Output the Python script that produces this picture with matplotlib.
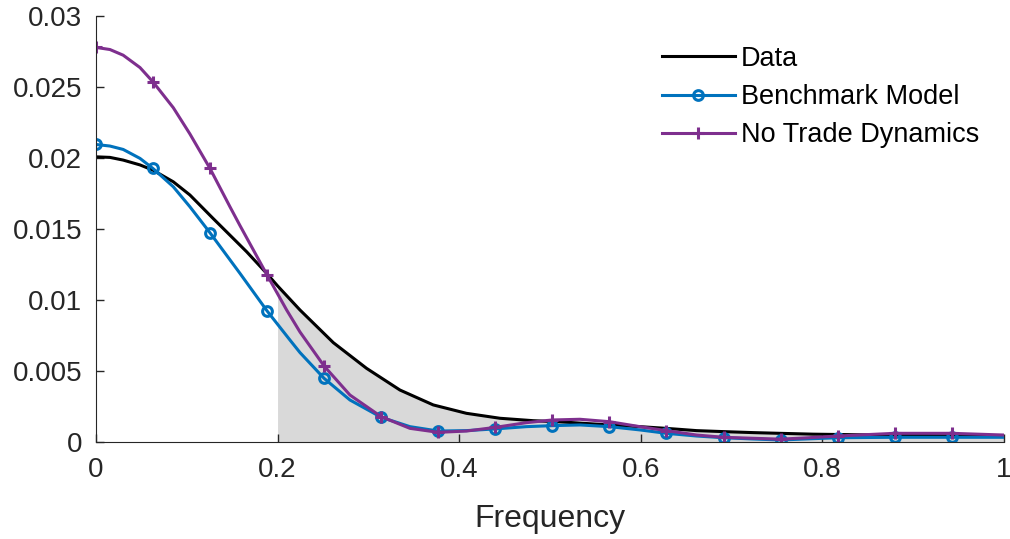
import matplotlib.pyplot as plt
import numpy as np

plt.rcParams['font.family'] = ['Liberation Sans', 'DejaVu Sans']

# Data curve
freq_data = [0.0, 0.0154, 0.030, 0.0485, 0.0628, 0.0852, 0.1035, 0.129, 0.166, 0.188,
             0.2, 0.2247, 0.2614, 0.298, 0.3348, 0.3715, 0.408, 0.445, 0.4816,
             0.511, 0.533, 0.5653, 0.599, 0.628, 0.6615, 0.691, 0.724, 0.753, 0.79,
             0.85, 0.92, 1.0]
spec_data = [0.02009, 0.02005, 0.01986, 0.01952, 0.01915, 0.01833, 0.0174, 0.01575,
             0.0134, 0.01188, 0.0110, 0.0093, 0.0070, 0.00519, 0.00366,
             0.00261, 0.00202, 0.00167, 0.0015, 0.00142, 0.00133, 0.0012, 0.00108,
             0.00096, 0.0008, 0.00073, 0.00066, 0.00061, 0.00055, 0.0005, 0.00045,
             0.0004]

# Benchmark Model
freq_bench = [0.0, 0.0154, 0.030, 0.0485, 0.0628, 0.0852, 0.1035, 0.1256, 0.1586,
              0.1885, 0.2137, 0.2247, 0.2513, 0.2797, 0.3142, 0.3458, 0.3770, 0.408,
              0.4398, 0.474, 0.5027, 0.533, 0.5655, 0.599, 0.6283, 0.6615, 0.6912,
              0.724, 0.7540, 0.785, 0.8168, 0.8796, 0.9425, 1.0]
spec_bench = [0.02096, 0.02085, 0.02061, 0.01998, 0.01927, 0.01798, 0.01657, 0.01474,
              0.01188, 0.00923, 0.00718, 0.0063, 0.00448, 0.00296, 0.00174, 0.00108,
              0.00077, 0.0008, 0.00092, 0.00108, 0.00115, 0.0012, 0.00108, 0.00085,
              0.00061, 0.00042, 0.0003, 0.00021, 0.00014, 0.00022, 0.0003, 0.00033,
              0.00033, 0.00033]
bench_marks = [0, 4, 7, 9, 12, 14, 16, 18, 20, 22, 24, 26, 28, 30, 31, 32]

# No Trade Dynamics
freq_notrade = [0.0, 0.0154, 0.030, 0.0485, 0.0628, 0.0852, 0.1035, 0.1256, 0.1476,
                0.1586, 0.1885, 0.21, 0.2247, 0.2513, 0.2797, 0.3142, 0.3458, 0.3770,
                0.408, 0.4398, 0.474, 0.5027, 0.533, 0.5655, 0.599, 0.6283, 0.6615,
                0.6912, 0.724, 0.7540, 0.785, 0.8168, 0.8796, 0.9425, 1.0]
spec_notrade = [0.0278, 0.02765, 0.02725, 0.02638, 0.02537, 0.02355, 0.0217, 0.01927,
                0.01657, 0.01525, 0.01176, 0.0093, 0.00775, 0.00535, 0.00331, 0.00178,
                0.00096, 0.00068, 0.00077, 0.00103, 0.00136, 0.00155, 0.0016, 0.00143,
                0.00108, 0.0008, 0.00049, 0.00033, 0.00026, 0.0002, 0.0003, 0.00042,
                0.00061, 0.00061, 0.00049]
notrade_marks = [0, 4, 7, 10, 13, 15, 17, 19, 21, 23, 25, 27, 29, 31, 32, 33]

fig = plt.figure(figsize=(10.1, 5.39), dpi=100)
ax = fig.add_axes([0.095, 0.18, 0.899, 0.79])

fd = np.array(freq_data)
sd = np.array(spec_data)
sel = fd >= 0.2
ax.fill_between(fd[sel], 0, sd[sel], color='#d9d9d9', lw=0)

ax.plot(freq_data, spec_data, color='black', lw=2.2, label='Data')
ax.plot(freq_bench, spec_bench, color='#0072BD', lw=2.2, marker='o', ms=7, mfc='none',
        mew=2.2, markevery=bench_marks, label='Benchmark Model')
ax.plot(freq_notrade, spec_notrade, color='#7E2F8E', lw=2.2, marker='+', ms=8, mew=2.2,
        markevery=notrade_marks, label='No Trade Dynamics')

ax.set_xlim(0, 1)
ax.set_ylim(0, 0.03)
ax.set_xticks([0, 0.2, 0.4, 0.6, 0.8, 1])
ax.set_xticklabels(['0', '0.2', '0.4', '0.6', '0.8', '1'])
ax.set_yticks([0, 0.005, 0.01, 0.015, 0.02, 0.025, 0.03])
ax.set_yticklabels(['0', '0.005', '0.01', '0.015', '0.02', '0.025', '0.03'])
ax.tick_params(direction='in', length=6, labelsize=20, colors='#262626', width=1)
ax.tick_params(axis='x', pad=11)
ax.tick_params(axis='y', pad=10)
ax.spines['top'].set_visible(False)
ax.spines['right'].set_visible(False)
for s in ['left', 'bottom']:
    ax.spines[s].set_color('#262626')
ax.set_xlabel('Frequency', fontsize=23, color='#262626', labelpad=15)

ax.legend(loc='upper left', bbox_to_anchor=(0.655, 0.915), bbox_transform=fig.transFigure,
          frameon=False, fontsize=19.5, handlelength=2.7, handletextpad=0.23,
          labelspacing=0.45, borderpad=0, borderaxespad=0)

plt.savefig('out.png')
